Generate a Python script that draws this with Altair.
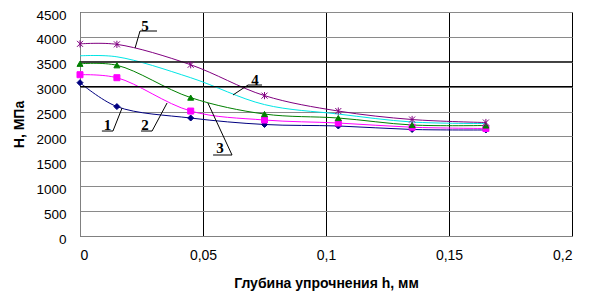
import altair as alt
import pandas as pd

depth = [0, 0.015, 0.045, 0.075, 0.105, 0.135, 0.165]
s1 = [3080, 2600, 2370, 2240, 2210, 2140, 2130]
s2 = [3240, 3180, 2510, 2330, 2270, 2185, 2160]
s3 = [3460, 3430, 2780, 2450, 2370, 2230, 2220]
s4 = [3620, 3600, 3180, 2640, 2450, 2290, 2260]
s5 = [3860, 3850, 3440, 2820, 2510, 2340, 2280]
series_names = ["1", "2", "3", "4", "5"]
series_colors = ["#000080", "#FF00FF", "#008000", "#00E5E5", "#800080"]
asterisk = "M-1,-1L1,1M-1,1L1,-1M0,-1.2L0,1.2"
series_shapes = ["diamond", "square", "triangle-up", "circle", asterisk]

x_ticks = [0, 0.05, 0.1, 0.15, 0.2]
y_ticks = [0, 500, 1000, 1500, 2000, 2500, 3000, 3500, 4000, 4500]
dark_y = [3000, 3500]

# callout labels: text position and polyline (underline + leader)
lab_names = ["1", "2", "3", "4", "5"]
lab_x = [0.0112, 0.0264, 0.0569, 0.0711, 0.0264]
lab_y = [2230, 2230, 1768, 3134, 4209]
call_x = [
    [0.0089, 0.0134, 0.0171],
    [0.0248, 0.0293, 0.0354],
    [0.0541, 0.0618, 0.0520],
    [0.0740, 0.0683, 0.0622],
    [0.0313, 0.0244, 0.0224],
]
call_y = [
    [2109, 2109, 2571],
    [2109, 2109, 2672],
    [1627, 1627, 2672],
    [3033, 3033, 2833],
    [4118, 4118, 3777],
]

rows = []
for name, vals in zip(series_names, [s1, s2, s3, s4, s5]):
    for x, y in zip(depth, vals):
        rows.append({"s": name, "h": x, "H": y})
df = pd.DataFrame(rows)

lab_df = pd.DataFrame({"t": lab_names, "x": lab_x, "y": lab_y})
call_rows = []
for name, xs, ys in zip(lab_names, call_x, call_y):
    for i, (x, y) in enumerate(zip(xs, ys)):
        call_rows.append({"t": name, "i": i, "x": x, "y": y})
call_df = pd.DataFrame(call_rows)

xscale = alt.Scale(domain=[0, 0.2], nice=False, zero=False)
yscale = alt.Scale(domain=[0, 4500], nice=False)
color = alt.Color("s:N", scale=alt.Scale(domain=series_names, range=series_colors), legend=None)

x_axis = alt.Axis(
    values=x_ticks, labelExpr="replace(format(datum.value, ''), '.', ',')", ticks=False,
    grid=True, gridColor="#000000", gridWidth=1, domainColor="#808080", labelOverlap=False,
    labelFont="Liberation Sans", labelFontSize=14, labelPadding=12, labelColor="#000000",
    title="Глубина упрочнения h, мм", titleFont="Liberation Sans", titleFontSize=14,
    titleFontWeight="bold", titleColor="#000000", titleY=47, titleBaseline="middle",
)
y_axis = alt.Axis(
    values=y_ticks, format="d", ticks=False, grid=True, gridColor="#8a8a8a", gridWidth=1,
    domainColor="#808080", labelFont="Liberation Sans", labelFontSize=13.5, labelPadding=14,
    labelOverlap=False, labelOffset=3, labelBaseline="middle",
    labelColor="#000000", title="Н, МПа", titleFont="Liberation Sans", titleFontSize=14,
    titleFontWeight="bold", titleColor="#000000", titleX=-61, titleY=112,
    titleAngle=270, titleAlign="center", titleBaseline="middle",
)


def X(field):
    return alt.X(field, scale=xscale, axis=x_axis)


def Y(field):
    return alt.Y(field, scale=yscale, axis=y_axis)


lines = alt.Chart(df).mark_line(interpolate="catmull-rom", strokeWidth=1).encode(
    x=X("h:Q"), y=Y("H:Q"), color=color, detail="s:N",
)

dark = alt.Chart(pd.DataFrame({"v": dark_y})).mark_rule(color="#000000", strokeWidth=1.3).encode(
    y=Y("v:Q")
)

points = alt.Chart(df).transform_filter("datum.s != '4'").mark_point(
    filled=True, size=36, strokeWidth=1, opacity=1
).encode(
    x=X("h:Q"), y=Y("H:Q"),
    color=color,
    stroke=alt.Stroke("s:N", scale=alt.Scale(domain=series_names, range=series_colors), legend=None),
    shape=alt.Shape("s:N", scale=alt.Scale(domain=series_names, range=series_shapes), legend=None),
)

callouts = alt.Chart(call_df).mark_line(color="#000000", strokeWidth=1).encode(
    x=X("x:Q"), y=Y("y:Q"), detail="t:N", order="i:Q",
)

labels = alt.Chart(lab_df).mark_text(
    font="Liberation Serif", fontSize=15, fontWeight="bold", color="#000000", baseline="middle"
).encode(x=X("x:Q"), y=Y("y:Q"), text="t:N")

chart = alt.layer(lines, dark, points, callouts, labels).properties(
    width=492, height=224,
    autosize=alt.AutoSizeParams(type="none"),
    padding={"left": 72, "top": 4, "right": 16, "bottom": 55},
    background="#ffffff",
).configure_view(stroke="#808080", strokeWidth=1)

chart.save("out.html", embed_options={"renderer": "svg", "actions": False})
